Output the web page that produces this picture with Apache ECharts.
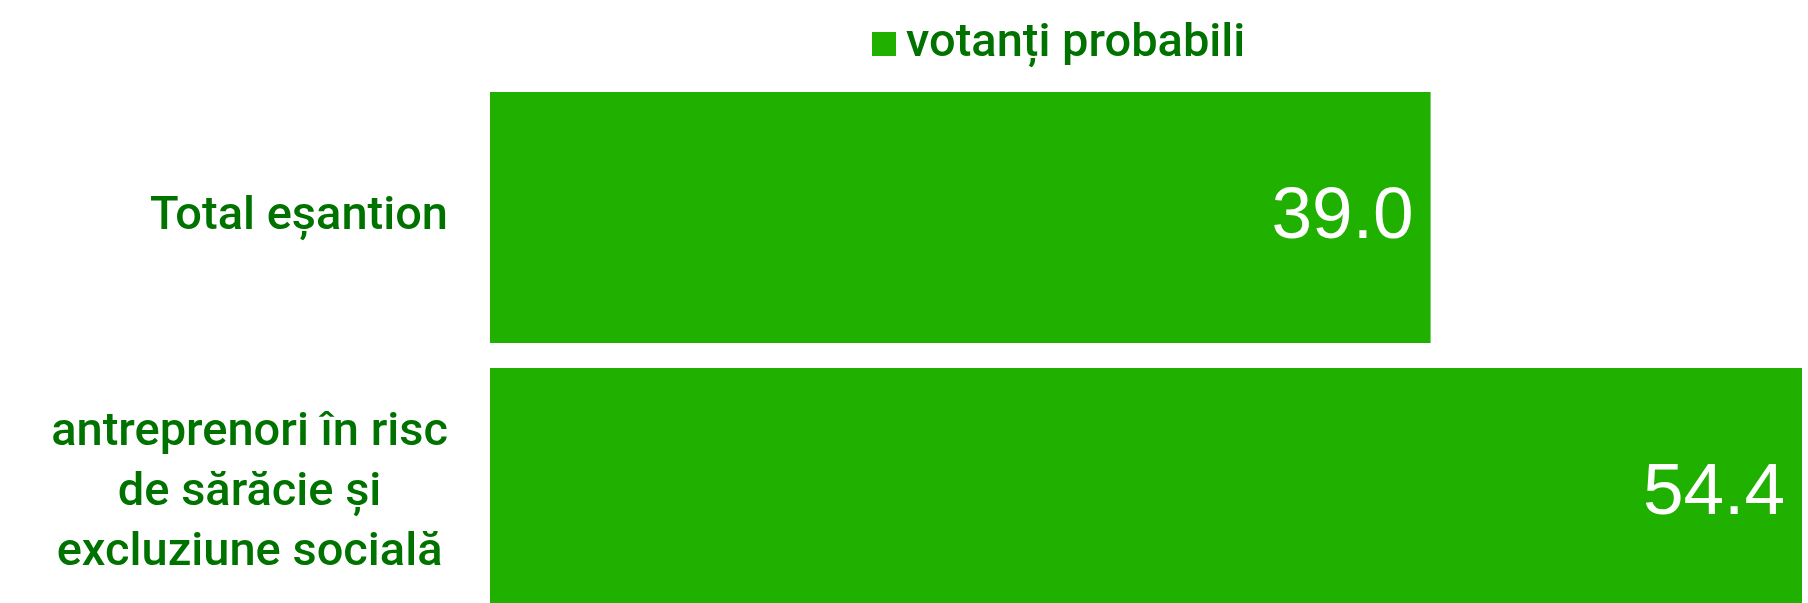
<!DOCTYPE html>
<html>
<head>
<meta charset="utf-8">
<script src="https://cdn.jsdelivr.net/npm/echarts@6/dist/echarts.min.js"></script>
<style>
  html, body { margin: 0; padding: 0; background: #fff; }
  #main { width: 1808px; height: 603px; }
</style>
</head>
<body>
<div id="main"></div>
<script>
var categories = ['Total eșantion', 'antreprenori în risc\nde sărăcie și\nexcluziune socială'];
var seriesName = 'votanți probabili';
var values = [39.0, 54.4];

var barColor = '#20b000';
var textColor = '#007200';
var labelFont = 'Roboto';

var myChart = echarts.init(document.getElementById('main'));

var option = {
    backgroundColor: '#ffffff',
    animation: false,
    legend: {
        data: [seriesName],
        left: 867,
        top: 15,
        itemWidth: 24,
        itemHeight: 24,
        icon: 'rect',
        textStyle: {
            color: textColor,
            fontFamily: labelFont,
            fontWeight: 500,
            fontSize: 47,
            lineHeight: 48,
            padding: [0, 0, 0, 5]
        }
    },
    grid: {
        left: 490,
        right: 6,
        top: 79.5,
        height: 552,
        outerBoundsMode: 'none'
    },
    xAxis: {
        type: 'value',
        min: 0,
        max: 54.4,
        show: false
    },
    yAxis: {
        type: 'category',
        inverse: true,
        data: categories,
        axisLine: { show: false },
        axisTick: { show: false },
        splitLine: { show: false },
        axisLabel: {
            margin: 42,
            align: 'right',
            color: textColor,
            fontFamily: labelFont,
            fontWeight: 500,
            fontSize: 47,
            lineHeight: 60,
            formatter: function (v) {
                return '{c|' + v + '}';
            },
            rich: {
                c: {
                    align: 'center',
                    color: textColor,
                    fontFamily: labelFont,
                    fontWeight: 500,
                    fontSize: 47,
                    lineHeight: 60
                }
            }
        }
    },
    series: [
        {
            name: seriesName,
            type: 'bar',
            barCategoryGap: '9%',
            itemStyle: { color: barColor },
            label: {
                show: true,
                position: 'insideRight',
                distance: 17,
                color: '#ffffff',
                fontFamily: 'Liberation Sans',
                fontSize: 73,
                formatter: function (p) {
                    return p.value.toFixed(1);
                }
            },
            data: values
        }
    ]
};

myChart.setOption(option);
</script>
</body>
</html>
